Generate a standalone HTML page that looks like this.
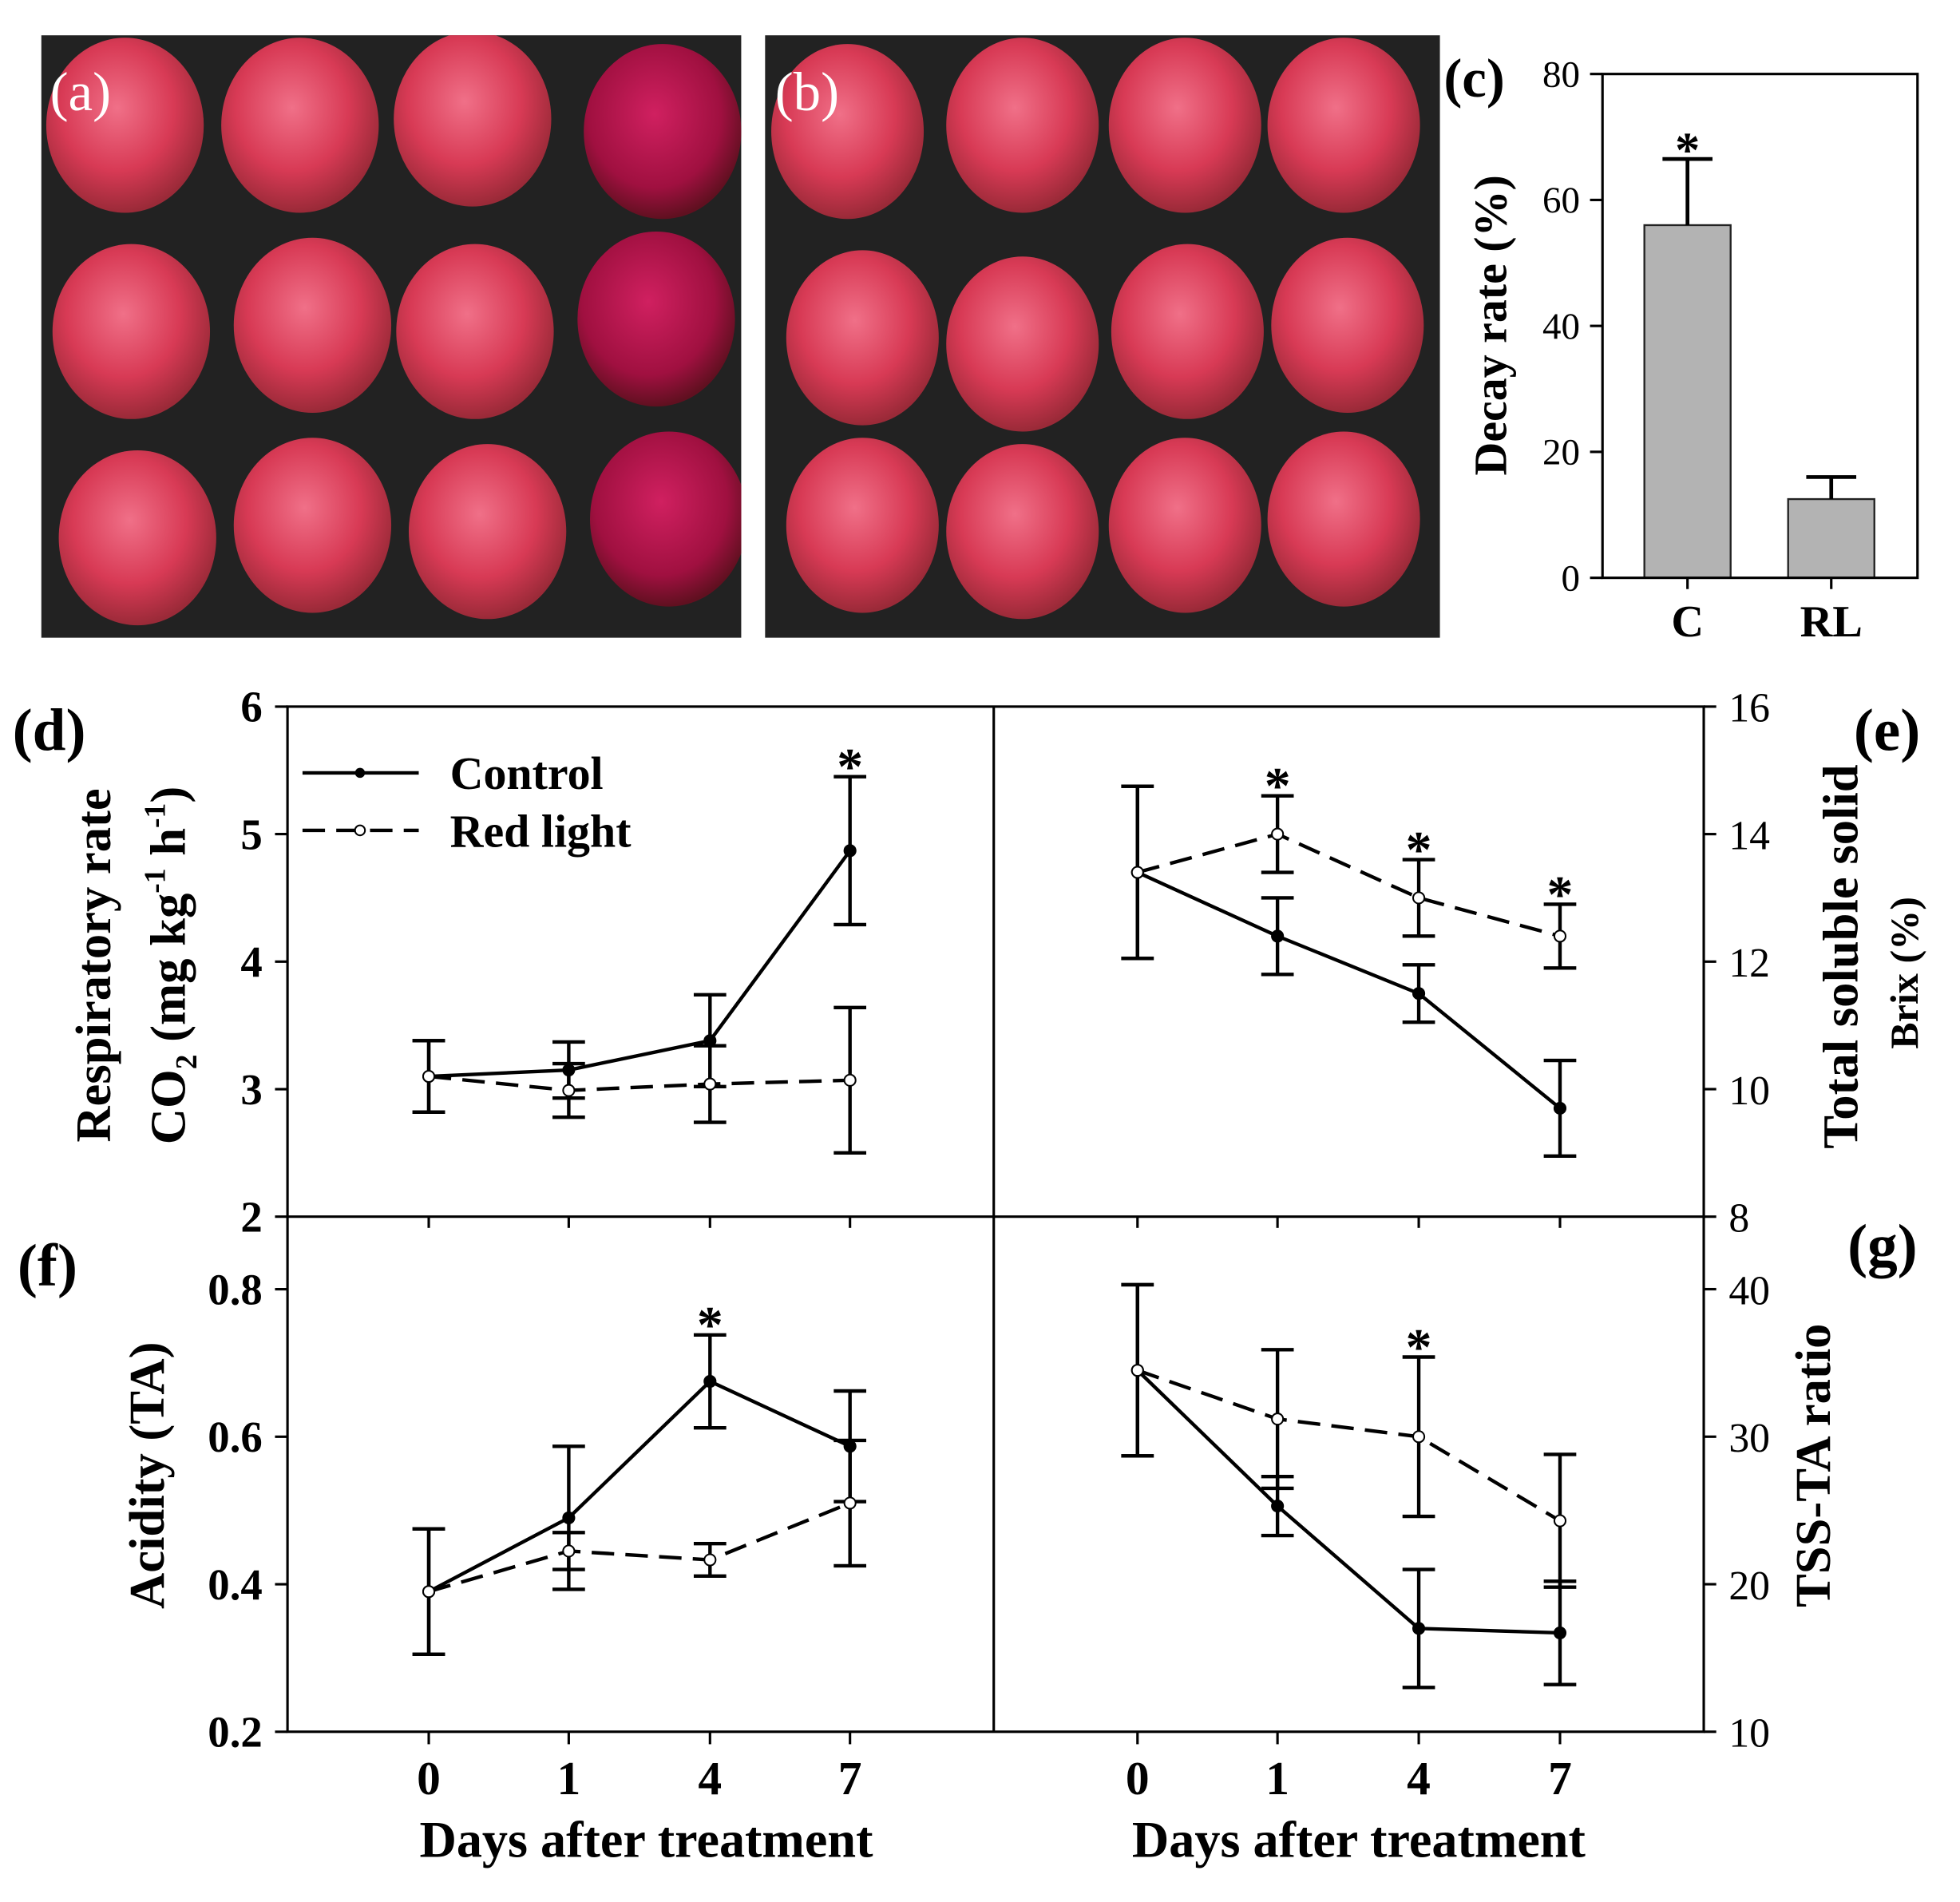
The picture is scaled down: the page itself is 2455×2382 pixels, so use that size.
<!DOCTYPE html>
<html><head><meta charset="utf-8"><style>
html,body{margin:0;padding:0;background:#fff;}
svg{display:block;}
text{font-family:"Liberation Serif",serif;}
</style></head><body>
<svg id="fig" width="2455" height="2382" viewBox="0 0 1568 1521" xmlns="http://www.w3.org/2000/svg">
<defs>
<radialGradient id="fruit" cx="0.45" cy="0.4" r="0.6">
<stop offset="0" stop-color="#f07088"/><stop offset="0.6" stop-color="#d83a55"/><stop offset="1" stop-color="#9a2a38"/>
</radialGradient>
<radialGradient id="fruitRot" cx="0.45" cy="0.4" r="0.6">
<stop offset="0" stop-color="#d02060"/><stop offset="0.7" stop-color="#a01040"/><stop offset="1" stop-color="#601020"/>
</radialGradient>
<clipPath id="clipA"><rect x="33" y="28" width="560" height="482"/></clipPath>
<clipPath id="clipB"><rect x="612" y="28" width="540" height="482"/></clipPath>
</defs>
<g id="photoA" clip-path="url(#clipA)">
<rect x="33" y="28" width="560" height="482" fill="#222"/>
</g>
<g id="photoB" clip-path="url(#clipB)">
<rect x="612" y="28" width="540" height="482" fill="#222"/>
</g>
<text x="40" y="88" font-size="44" fill="#fff">(a)</text>
<text x="620" y="88" font-size="44" fill="#fff">(b)</text>
<g id="chartC"></g>
<g id="panels"></g>
</svg>
<script>
const NS="http://www.w3.org/2000/svg";
function mk(parent,tag,attrs,txt){const e=document.createElementNS(NS,tag);for(const k in attrs)e.setAttribute(k,attrs[k]);if(txt!==undefined)e.textContent=txt;parent.appendChild(e);return e;}

const fruitsA=[[100,100,0],[240,100,0],[378,95,0],[530,105,1],[105,265,0],[250,260,0],[380,265,0],[525,255,1],[110,430,0],[250,420,0],[390,425,0],[535,415,1]];
const fruitsB=[[678,105,0],[818,100,0],[948,100,0],[1075,100,0],[690,270,0],[818,275,0],[950,265,0],[1078,260,0],[690,420,0],[818,425,0],[948,420,0],[1075,415,0]];
const pa=document.getElementById('photoA'), pb=document.getElementById('photoB');
fruitsA.forEach(f=>{const e=mk(pa,'ellipse',{cx:f[0],cy:f[1],rx:63,ry:70,fill:f[2]?'url(#fruitRot)':'url(#fruit)'});

});
fruitsB.forEach(f=>{const e=mk(pb,'ellipse',{cx:f[0],cy:f[1],rx:61,ry:70,fill:'url(#fruit)'});

});

const cCats=["C","RL"];
const cVals=[56,12.5];
const cErr=[10.5,3.5];
const cTicks=[0,20,40,60,80];
const cSig=[true,false];

const days=["0","1","4","7"];
const dControl=[3.1,3.15,3.38,4.87];
const dControlErr=[0.28,0.22,0.36,0.58];
const dRed=[3.1,2.99,3.04,3.07];
const dRedErr=[0.28,0.21,0.3,0.57];
const dSig=[false,false,false,true];
const dTicks=[2,3,4,5,6];

const eControl=[13.4,12.4,11.5,9.7];
const eControlErr=[1.35,0.6,0.45,0.75];
const eRed=[13.4,14.0,13.0,12.4];
const eRedErr=[1.35,0.6,0.6,0.5];
const eSig=[false,true,true,true];
const eTicks=[8,10,12,14,16];

const fControl=[0.39,0.49,0.675,0.587];
const fControlErr=[0.085,0.097,0.063,0.075];
const fRed=[0.39,0.445,0.433,0.51];
const fRedErr=[0.085,0.025,0.022,0.085];
const fSig=[false,false,true,false];
const fTicks=[0.2,0.4,0.6,0.8];

const gControl=[34.5,25.3,17.0,16.7];
const gControlErr=[5.8,2.0,4.0,3.5];
const gRed=[34.5,31.2,30.0,24.3];
const gRedErr=[5.8,4.7,5.4,4.5];
const gSig=[false,false,true,false];
const gTicks=[10,20,30,40];

(function(){
 const g=document.getElementById('chartC');
 const L=1282,R=1534,T=59,B=462,ymax=80;
 const y=v=>B-(v/ymax)*(B-T);
 const xc=[1350,1465], bw=69;
 cVals.forEach((v,i)=>{
  const bar=mk(g,'rect',{x:xc[i]-bw/2,y:y(v),width:bw,height:B-y(v),fill:'#b3b3b3',stroke:'#222','stroke-width':1.5});
  
  
  const top=y(v+cErr[i]);
  mk(g,'line',{x1:xc[i],x2:xc[i],y1:y(v),y2:top,stroke:'#000','stroke-width':3});
  mk(g,'line',{x1:xc[i]-20,x2:xc[i]+20,y1:top,y2:top,stroke:'#000','stroke-width':3});
  if(cSig[i]){const s=mk(g,'text',{x:xc[i],y:top+6,'font-size':40,'font-weight':'bold','text-anchor':'middle'},'*');
   
   }
  const t=mk(g,'text',{x:xc[i],y:B+47,'font-size':36,'font-weight':'bold','text-anchor':'middle'},cCats[i]);
  
  
  mk(g,'line',{x1:xc[i],x2:xc[i],y1:B,y2:B+9,stroke:'#000','stroke-width':2});
 });
 mk(g,'rect',{x:L,y:T,width:R-L,height:B-T,fill:'none',stroke:'#000','stroke-width':2});
 cTicks.forEach(v=>{
  mk(g,'line',{x1:L-10,x2:L,y1:y(v),y2:y(v),stroke:'#000','stroke-width':2});
  const t=mk(g,'text',{x:L-18,y:y(v)+10,'font-size':30,'text-anchor':'end'},v);
  
  
 });
 const lab=mk(g,'text',{x:1155,y:77,'font-size':44,'font-weight':'bold'},'(c)');
 
 
 const yt=mk(g,'text',{x:0,y:0,'font-size':37,'font-weight':'bold','text-anchor':'middle',transform:'translate(1205,260) rotate(-90)'},'Decay rate (%)');
 
 
})();

(function(){
 const g=document.getElementById('panels');
 const L=230,M=795,R=1363,T=565,H=973,B=1385;
 const xl=[343,455,568,680], xr=[910,1022,1135,1248];
 mk(g,'rect',{x:L,y:T,width:R-L,height:B-T,fill:'none',stroke:'#000','stroke-width':2});
 mk(g,'line',{x1:M,x2:M,y1:T,y2:B,stroke:'#000','stroke-width':2});
 mk(g,'line',{x1:L,x2:R,y1:H,y2:H,stroke:'#000','stroke-width':2});
 [xl,xr].forEach(xs=>xs.forEach((x,i)=>{
  mk(g,'line',{x1:x,x2:x,y1:H,y2:H+9,stroke:'#000','stroke-width':2});
  mk(g,'line',{x1:x,x2:x,y1:B,y2:B+10,stroke:'#000','stroke-width':2});
  const t=mk(g,'text',{x:x,y:1435,'font-size':38,'font-weight':'bold','text-anchor':'middle'},days[i]);
  
  
 }));
 [[517,'x-axis-title-left'],[1087,'x-axis-title-right']].forEach(a=>{
  const t=mk(g,'text',{x:a[0],y:1485,'font-size':41,'font-weight':'bold','text-anchor':'middle'},'Days after treatment');
  
  
 });
 function panel(x,top,bot,mn,mx,ticks,side,bold,ctrl,cErr,red,rErr,sig,fmt){
  const y=v=>bot-(v-mn)/(mx-mn)*(bot-top);
  const ax=side==='left'?L:R;
  ticks.forEach(v=>{
   const dx=side==='left'?-10:10;
   mk(g,'line',{x1:ax,x2:ax+dx,y1:y(v),y2:y(v),stroke:'#000','stroke-width':2});
   const t=mk(g,'text',{x:side==='left'?ax-20:ax+20,y:y(v)+12,'font-size':bold?35:33,'font-weight':bold?'bold':'normal','text-anchor':side==='left'?'end':'start'},fmt(v));
   
   
  });
  function series(vals,errs,dash,fill,name){
   vals.forEach((v,i)=>{
    const a=y(v+errs[i]),b=y(v-errs[i]);
    mk(g,'line',{x1:x[i],x2:x[i],y1:a,y2:b,stroke:'#000','stroke-width':2.8});
    mk(g,'line',{x1:x[i]-13,x2:x[i]+13,y1:a,y2:a,stroke:'#000','stroke-width':2.8});
    mk(g,'line',{x1:x[i]-13,x2:x[i]+13,y1:b,y2:b,stroke:'#000','stroke-width':2.8});
   });
   const pts=vals.map((v,i)=>x[i]+','+y(v)).join(' ');
   const pl=mk(g,'polyline',{points:pts,fill:'none',stroke:'#000','stroke-width':2.8,'stroke-dasharray':dash});
   
   
   vals.forEach((v,i)=>{
    const c=mk(g,'circle',{cx:x[i],cy:y(v),r:4.5,fill:fill,stroke:'#000','stroke-width':1.3});
    
    
   });
  }
  series(ctrl,cErr,'none','#000','control');
  series(red,rErr,'18,9','#fff','red-light');
  sig.forEach((s,i)=>{ if(!s)return;
   const top2=Math.min(y(ctrl[i]+cErr[i]),y(red[i]+rErr[i]));
   const t=mk(g,'text',{x:x[i],y:top2+6,'font-size':42,'font-weight':'bold','text-anchor':'middle'},'*');
   
   
  });
 }
 panel(xl,T,H,2,6,dTicks,'left',true,dControl,dControlErr,dRed,dRedErr,dSig,v=>String(v));
 panel(xr,T,H,8,16,eTicks,'right',false,eControl,eControlErr,eRed,eRedErr,eSig,v=>String(v));
 panel(xl,1031,B,0.2,0.8,fTicks,'left',true,fControl,fControlErr,fRed,fRedErr,fSig,v=>v.toFixed(1));
 panel(xr,1031,B,10,40,gTicks,'right',false,gControl,gControlErr,gRed,gRedErr,gSig,v=>String(v));
 [['(d)',10,600],['(e)',1483,600],['(f)',14,1028],['(g)',1478,1012]].forEach(a=>{
  const t=mk(g,'text',{x:a[1],y:a[2],'font-size':48,'font-weight':'bold'},a[0]);
  
  
 });
 const lg=mk(g,'g',{});
 
 
 mk(lg,'line',{x1:242,x2:335,y1:618,y2:618,stroke:'#000','stroke-width':2.8});
 mk(lg,'circle',{cx:288,cy:618,r:4,fill:'#000'});
 mk(lg,'text',{x:360,y:631,'font-size':37,'font-weight':'bold'},'Control');
 mk(lg,'line',{x1:242,x2:335,y1:664,y2:664,stroke:'#000','stroke-width':2.8,'stroke-dasharray':'18,9'});
 mk(lg,'circle',{cx:288,cy:664,r:4,fill:'#fff',stroke:'#000','stroke-width':1.3});
 mk(lg,'text',{x:360,y:677,'font-size':37,'font-weight':'bold'},'Red light');
 const tt=[
  ['Respiratory rate','translate(88,772) rotate(-90)','y-axis-title-d'],
  ['Acidity (TA)','translate(131,1180) rotate(-90)','y-axis-title-f'],
  ['Total soluble solid','translate(1486,765) rotate(-90)','y-axis-title-e'],
  ['TSS-TA ratio','translate(1464,1172) rotate(-90)','y-axis-title-g']];
 tt.forEach(a=>{const t=mk(g,'text',{x:0,y:0,'font-size':40,'font-weight':'bold','text-anchor':'middle',transform:a[1]},a[0]);
  
  });
 const co=mk(g,'text',{x:0,y:0,'font-size':40,'font-weight':'bold','text-anchor':'middle',transform:'translate(148,772) rotate(-90)'});
 
 
 co.innerHTML='CO<tspan dy="9" font-size="24">2</tspan><tspan dy="-9"> (mg kg</tspan><tspan dy="-16" font-size="24">-1</tspan><tspan dy="16"> h</tspan><tspan dy="-16" font-size="24">-1</tspan><tspan dy="16">)</tspan>';
 const br=mk(g,'text',{x:0,y:0,'font-size':32,'font-weight':'bold','text-anchor':'middle',transform:'translate(1534,778) rotate(-90)'},'Brix (%)');
 
 
})();
</script>
</body></html>
